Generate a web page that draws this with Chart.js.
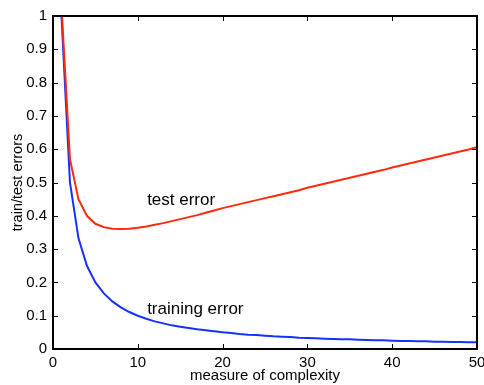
<!DOCTYPE html>
<html>
<head>
<meta charset="utf-8">
<script src="https://cdn.jsdelivr.net/npm/chart.js@4"></script>
<style>
  body { margin: 0; background: #fff; }
  canvas { display: block; }
</style>
</head>
<body>
<canvas id="errChart" width="484" height="385"></canvas>
<script>
// --------------------------
// Data
// --------------------------
const complexity = [1, 2, 3, 4, 5, 6, 7, 8, 9, 10,
  11, 12, 13, 14, 15, 16, 17, 18, 19, 20,
  21, 22, 23, 24, 25, 26, 27, 28, 29, 30,
  31, 32, 33, 34, 35, 36, 37, 38, 39, 40,
  41, 42, 43, 44, 45, 46, 47, 48, 49, 50];

const trainingError = [1.0, 0.5, 0.333, 0.25, 0.2, 0.167, 0.143, 0.125, 0.111, 0.1,
  0.091, 0.083, 0.077, 0.071, 0.067, 0.063, 0.059, 0.056, 0.053, 0.05,
  0.048, 0.045, 0.043, 0.042, 0.04, 0.038, 0.037, 0.036, 0.034, 0.033,
  0.032, 0.031, 0.03, 0.029, 0.029, 0.028, 0.027, 0.026, 0.026, 0.025,
  0.024, 0.024, 0.023, 0.023, 0.022, 0.022, 0.021, 0.021, 0.02, 0.02];

const testError = [1.03, 0.57, 0.45, 0.40, 0.376, 0.366, 0.361, 0.36, 0.361, 0.364,
  0.368, 0.373, 0.378, 0.384, 0.39, 0.396, 0.402, 0.409, 0.416, 0.423,
  0.429, 0.435, 0.441, 0.447, 0.453, 0.459, 0.465, 0.471, 0.477, 0.484,
  0.49, 0.496, 0.502, 0.508, 0.514, 0.52, 0.526, 0.532, 0.538, 0.545,
  0.551, 0.557, 0.563, 0.569, 0.575, 0.581, 0.587, 0.593, 0.599, 0.606];

const xTicks = [0, 10, 20, 30, 40, 50];
const yTicks = [0, 0.1, 0.2, 0.3, 0.4, 0.5, 0.6, 0.7, 0.8, 0.9, 1];

// curve labels: [text, x, y] in data units
const curveLabels = [
  ["test error", 11.1, 0.448],
  ["training error", 11.1, 0.118],
];

const FONT = "'Liberation Sans', Arial, Helvetica, sans-serif";

// --------------------------
// Frame, inward ticks, labels
// --------------------------
const framePlugin = {
  id: "frame",
  afterDraw(chart) {
    const { ctx, chartArea: a, scales } = chart;
    const x = scales.x, y = scales.y;
    const len = 5;
    ctx.save();
    ctx.strokeStyle = "#000";
    ctx.lineWidth = 1;
    ctx.beginPath();
    xTicks.forEach((t) => {
      const px = Math.round(x.getPixelForValue(t)) + 0.5;
      ctx.moveTo(px, a.bottom); ctx.lineTo(px, a.bottom - len);
      ctx.moveTo(px, a.top); ctx.lineTo(px, a.top + len);
    });
    yTicks.forEach((t) => {
      const py = Math.round(y.getPixelForValue(t)) + 0.5;
      ctx.moveTo(a.left, py); ctx.lineTo(a.left + len, py);
      ctx.moveTo(a.right, py); ctx.lineTo(a.right - len, py);
    });
    ctx.stroke();
    ctx.lineWidth = 2;
    ctx.strokeRect(a.left, a.top, a.right - a.left, a.bottom - a.top);

    ctx.fillStyle = "#000";
    ctx.font = "17px " + FONT;
    ctx.textAlign = "left";
    ctx.textBaseline = "middle";
    curveLabels.forEach(([txt, lx, ly]) => {
      ctx.fillText(txt, x.getPixelForValue(lx), y.getPixelForValue(ly));
    });
    ctx.restore();
  },
};

// --------------------------
// Chart
// --------------------------
new Chart(document.getElementById("errChart"), {
  type: "line",
  data: {
    labels: complexity,
    datasets: [
      {
        label: "test error",
        data: complexity.map((c, i) => ({ x: c, y: testError[i] })),
        borderColor: "#ff2a0a",
        borderWidth: 2,
        pointRadius: 0,
        tension: 0,
      },
      {
        label: "training error",
        data: complexity.map((c, i) => ({ x: c, y: trainingError[i] })),
        borderColor: "#1432ff",
        borderWidth: 2,
        pointRadius: 0,
        tension: 0,
      },
    ],
  },
  options: {
    responsive: false,
    animation: false,
    layout: { padding: { top: 16, right: 7, left: 0, bottom: 0 } },
    plugins: { legend: { display: false }, tooltip: { enabled: false } },
    scales: {
      x: {
        type: "linear",
        min: 0,
        max: 50,
        afterBuildTicks: (s) => { s.ticks = xTicks.map((v) => ({ value: v })); },
        afterFit: (s) => { s.height = 36; s.paddingLeft = 0; s.paddingRight = 0; },
        grid: { display: false, drawTicks: false },
        border: { display: false },
        ticks: { color: "#000", padding: 5, maxRotation: 0, font: { family: FONT, size: 15 } },
        title: {
          display: true,
          text: "measure of complexity",
          color: "#000",
          font: { family: FONT, size: 15 },
          padding: { top: 1, bottom: 0 },
        },
      },
      y: {
        min: 0,
        max: 1,
        afterBuildTicks: (s) => { s.ticks = yTicks.map((v) => ({ value: v })); },
        afterFit: (s) => { s.width = 53; s.paddingTop = 0; s.paddingBottom = 0; },
        grid: { display: false, drawTicks: false },
        border: { display: false },
        ticks: {
          color: "#000",
          padding: 6,
          font: { family: FONT, size: 15 },
          callback: (v) => String(Math.round(v * 10) / 10),
        },
        title: {
          display: true,
          text: "train/test errors",
          color: "#000",
          font: { family: FONT, size: 14.5 },
          padding: { top: 9, bottom: 0 },
        },
      },
    },
  },
  plugins: [framePlugin],
});
</script>
</body>
</html>
